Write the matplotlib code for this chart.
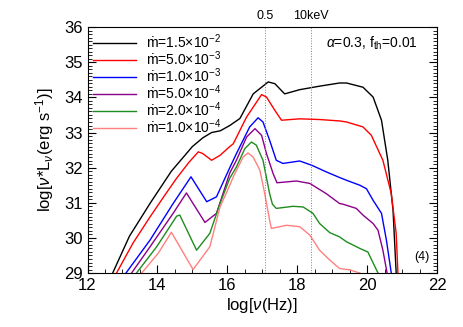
import numpy as np
import matplotlib
matplotlib.use("Agg")
import matplotlib.pyplot as plt
from matplotlib.ticker import MultipleLocator

plt.rcParams['font.family'] = ['Liberation Sans', 'DejaVu Sans']
plt.rcParams['mathtext.fontset'] = 'custom'
plt.rcParams['mathtext.rm'] = 'Liberation Sans'
plt.rcParams['mathtext.it'] = 'Liberation Sans:italic'

# log nu (Hz), log nu*L_nu, one pair of lists per accretion rate
x_15e2 = [12.72, 13.2, 13.8, 14.4, 15.0, 15.3, 15.55, 15.8, 16.07, 16.36, 16.74, 17.17, 17.36, 17.64,
          18.07, 18.64, 19.21, 19.41, 19.88, 20.17, 20.41, 20.59, 20.74, 20.83]
y_15e2 = [29.0, 30.05, 31.0, 31.9, 32.6, 32.85, 33.0, 33.05, 33.2, 33.4, 34.1, 34.44, 34.39, 34.1,
          34.22, 34.32, 34.41, 34.41, 34.29, 34.01, 33.35, 32.21, 30.79, 29.0]

x_50e3 = [12.83, 13.3, 13.79, 14.2, 14.55, 14.9, 15.17, 15.3, 15.55, 15.79, 16.07, 16.17, 16.55,
          16.98, 17.12, 17.36, 17.55, 18.07, 18.64, 19.21, 19.41, 19.88, 20.12, 20.45, 20.69, 20.83,
          20.88]
y_50e3 = [29.0, 29.85, 30.6, 31.2, 31.7, 32.15, 32.45, 32.4, 32.21, 32.35, 32.6, 32.68, 33.44,
          34.08, 34.01, 33.63, 33.35, 33.39, 33.37, 33.33, 33.3, 33.16, 32.92, 32.21, 31.26, 30.13,
          29.0]

x_10e3 = [13.1, 13.79, 14.45, 14.96, 15.41, 15.69, 16.07, 16.26, 16.64, 16.88, 17.02, 17.21, 17.4,
          17.59, 18.07, 18.41, 18.83, 19.21, 19.41, 19.79, 19.98, 20.17, 20.41, 20.55, 20.69]
y_10e3 = [29.0, 29.94, 30.98, 31.74, 31.03, 31.17, 32.0, 32.4, 33.16, 33.42, 33.3, 32.78, 32.21,
          32.12, 32.19, 32.07, 31.88, 31.72, 31.64, 31.5, 31.4, 31.07, 30.7, 29.94, 29.0]

x_50e4 = [13.26, 13.79, 14.45, 14.83, 15.36, 15.69, 16.07, 16.26, 16.55, 16.79, 16.98, 17.12, 17.31,
          17.42, 17.98, 18.36, 18.83, 19.21, 19.31, 19.69, 19.88, 20.17, 20.31, 20.45, 20.57]
y_50e4 = [29.0, 29.75, 30.7, 31.28, 30.44, 30.7, 31.85, 32.21, 32.87, 33.11, 32.92, 32.4, 31.83,
          31.57, 31.62, 31.55, 31.26, 30.98, 30.96, 30.84, 30.65, 30.41, 30.22, 29.65, 29.0]

x_20e4 = [13.4, 13.98, 14.55, 14.64, 15.12, 15.5, 15.79, 16.07, 16.26, 16.5, 16.69, 16.83, 17.02,
          17.21, 17.29, 17.4, 17.88, 18.17, 18.45, 18.64, 18.93, 19.21, 19.41, 19.79, 20.02, 20.31]
y_20e4 = [29.0, 29.75, 30.62, 30.65, 29.65, 30.13, 30.98, 31.7, 32.02, 32.54, 32.73, 32.64, 32.21,
          31.26, 30.96, 30.84, 30.9, 30.88, 30.7, 30.41, 30.15, 30.03, 29.89, 29.7, 29.6, 29.0]

x_10e4 = [13.55, 14.02, 14.4, 15.02, 15.5, 15.79, 16.07, 16.17, 16.45, 16.59, 16.74, 16.93, 17.07,
          17.21, 17.26, 17.69, 18.07, 18.36, 18.64, 18.93, 19.21, 19.5, 19.79]
y_10e4 = [29.0, 29.56, 30.16, 29.1, 29.75, 30.88, 31.5, 31.74, 32.3, 32.42, 32.3, 31.93, 31.26,
          30.5, 30.27, 30.36, 30.32, 30.08, 29.65, 29.37, 29.13, 29.09, 29.0]

labels = ['ṁ=1.5×10$^{-2}$', 'ṁ=5.0×10$^{-3}$', 'ṁ=1.0×10$^{-3}$',
          'ṁ=5.0×10$^{-4}$', 'ṁ=2.0×10$^{-4}$', 'ṁ=1.0×10$^{-4}$']
colors = ['black', '#ff0000', '#0000ff', '#8b008b', '#1e8c1e', '#ff8080']

# 0.5 keV and 10 keV in log Hz
band_x = [17.08, 18.38]
band_labels = ['0.5', '10keV']

fig = plt.figure(figsize=(4.63, 3.27), dpi=100)
ax = fig.add_axes([0.189, 0.165, 0.755, 0.752])

curves = [(x_15e2, y_15e2), (x_50e3, y_50e3), (x_10e3, y_10e3),
          (x_50e4, y_50e4), (x_20e4, y_20e4), (x_10e4, y_10e4)]
for (xs, ys), c, lab in zip(curves, colors, labels):
    ax.plot(xs, ys, color=c, lw=1.0, label=lab)

for bx, bl in zip(band_x, band_labels):
    ax.axvline(bx, color='grey', ls=':', lw=0.7)
    ax.text(bx, 36.15, bl, ha='center', va='bottom', fontsize=9)

ax.set_xlim(12, 22)
ax.set_ylim(29, 36)
ax.xaxis.set_major_locator(MultipleLocator(2))
ax.xaxis.set_minor_locator(MultipleLocator(0.5))
ax.yaxis.set_major_locator(MultipleLocator(1))
ax.yaxis.set_minor_locator(MultipleLocator(0.1))
ax.tick_params(which='both', direction='in', top=False, right=True, labelsize=12)
ax.tick_params(which='major', length=6)
ax.tick_params(which='minor', length=3)

ax.set_xlabel(r'log[$\nu$(Hz)]', fontsize=12, labelpad=2)
ax.set_ylabel(r'log[$\nu$*L$_\nu$(erg s$^{-1}$)]', fontsize=12, labelpad=6)

ax.text(0.946, 0.934, r'$\alpha$=0.3, f$_{\rm th}$=0.01', transform=ax.transAxes,
        ha='right', va='center', fontsize=10)
ax.text(0.977, 0.066, '(4)', transform=ax.transAxes, ha='right', va='center', fontsize=9)

ax.legend(loc='upper left', frameon=False, fontsize=10, handlelength=3.1,
          labelspacing=-0.12, borderaxespad=0.2, handletextpad=0.7, borderpad=0.2)

fig.savefig('out.png', dpi=100)
